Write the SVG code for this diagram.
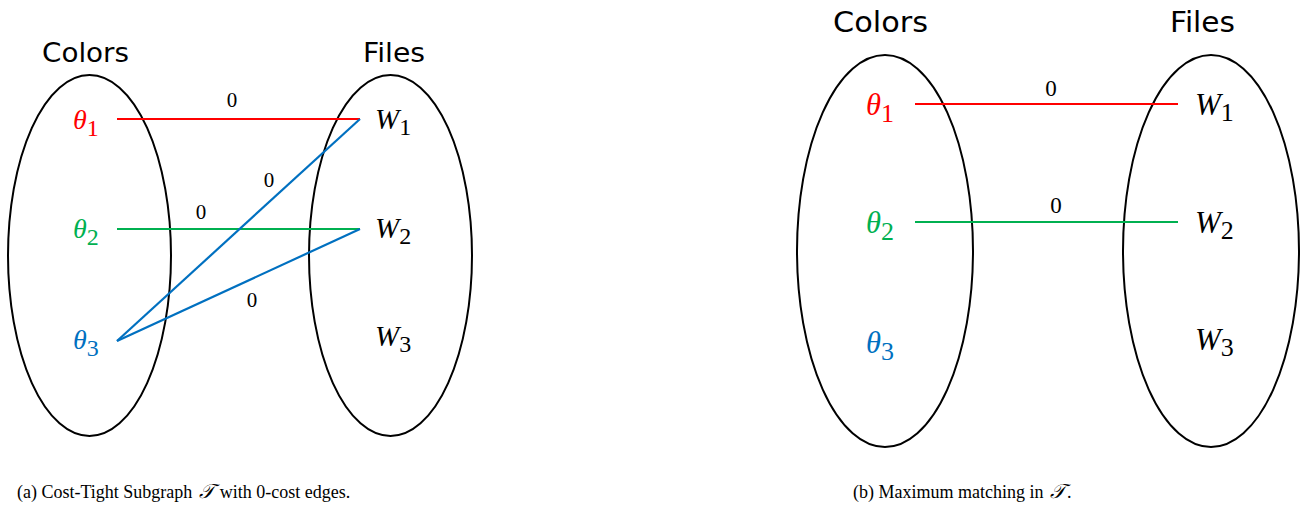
<svg xmlns="http://www.w3.org/2000/svg" width="1302" height="508" viewBox="0 0 1302 508">
<style>
.set{fill:none;stroke:#000;stroke-width:2}
.hdr{font-family:"DejaVu Sans",sans-serif;fill:#000}
.m{font-family:"Liberation Serif",serif;font-style:italic}
.sub{font-style:normal}
.w{fill:#000}
.r{fill:#FF0000}
.g{fill:#00B050}
.b{fill:#0070C0}
.e{fill:none;stroke-width:2.2}
.er{stroke:#FF0000}
.eg{stroke:#00B050}
.eb{stroke:#0070C0}
.lbl{font-family:"Liberation Serif",serif;fill:#000;text-anchor:middle}
.cap{font-family:"Liberation Serif",serif;font-size:18px;fill:#000}
.calT{font-style:italic;font-size:20px}
</style>
<rect width="1302" height="508" fill="#fff"/>

<!-- Panel (a) -->
<g id="a-colors-set">
<ellipse class="set" cx="89.5" cy="255.5" rx="81.5" ry="180.5"/>
<text class="hdr" x="42" y="62" font-size="26" textLength="87" lengthAdjust="spacingAndGlyphs">Colors</text>
</g>
<g id="a-files-set">
<ellipse class="set" cx="390.5" cy="255.5" rx="81.5" ry="180.5"/>
<text class="hdr" x="363" y="62" font-size="26" textLength="62" lengthAdjust="spacingAndGlyphs">Files</text>
</g>

<g id="a-connectors">
<line class="e er" x1="117" y1="119" x2="360" y2="119"/>
<line class="e eg" x1="117" y1="229" x2="360" y2="229"/>
<line class="e eb" x1="117" y1="341" x2="360" y2="119"/>
<line class="e eb" x1="117" y1="341" x2="360" y2="229"/>
<text class="lbl" x="232" y="107" font-size="21">0</text>
<text class="lbl" x="269" y="187" font-size="21">0</text>
<text class="lbl" x="201" y="219" font-size="21">0</text>
<text class="lbl" x="252" y="307" font-size="21">0</text>
</g>

<g id="a-theta1"><text class="m r" x="73" y="129" font-size="28">θ<tspan class="sub" font-size="24" dy="7">1</tspan></text></g>
<g id="a-theta2"><text class="m g" x="73" y="238" font-size="28">θ<tspan class="sub" font-size="24" dy="7">2</tspan></text></g>
<g id="a-theta3"><text class="m b" x="73" y="349" font-size="28">θ<tspan class="sub" font-size="24" dy="7">3</tspan></text></g>
<g id="a-W1"><text class="m w" x="375" y="129" font-size="29">W<tspan class="sub" font-size="24" dy="6">1</tspan></text></g>
<g id="a-W2"><text class="m w" x="375" y="238" font-size="29">W<tspan class="sub" font-size="24" dy="6">2</tspan></text></g>
<g id="a-W3"><text class="m w" x="375" y="346" font-size="29">W<tspan class="sub" font-size="24" dy="6">3</tspan></text></g>

<!-- Panel (b) -->
<g id="b-colors-set">
<ellipse class="set" cx="885" cy="251" rx="88" ry="196"/>
<text class="hdr" x="833" y="32" font-size="28" textLength="95" lengthAdjust="spacingAndGlyphs">Colors</text>
</g>
<g id="b-files-set">
<ellipse class="set" cx="1211" cy="251" rx="88" ry="196"/>
<text class="hdr" x="1170" y="32" font-size="28" textLength="65" lengthAdjust="spacingAndGlyphs">Files</text>
</g>

<g id="b-connectors">
<line class="e er" x1="915" y1="104" x2="1178" y2="104"/>
<line class="e eg" x1="915" y1="222" x2="1178" y2="222"/>
<text class="lbl" x="1051" y="96" font-size="23">0</text>
<text class="lbl" x="1056" y="213" font-size="23">0</text>
</g>

<g id="b-theta1"><text class="m r" x="866" y="115" font-size="30.5">θ<tspan class="sub" font-size="26" dy="7">1</tspan></text></g>
<g id="b-theta2"><text class="m g" x="866" y="233" font-size="30.5">θ<tspan class="sub" font-size="26" dy="7">2</tspan></text></g>
<g id="b-theta3"><text class="m b" x="866" y="353" font-size="30.5">θ<tspan class="sub" font-size="26" dy="7">3</tspan></text></g>
<g id="b-W1"><text class="m w" x="1195" y="115" font-size="31">W<tspan class="sub" font-size="26" dy="6">1</tspan></text></g>
<g id="b-W2"><text class="m w" x="1195" y="233" font-size="31">W<tspan class="sub" font-size="26" dy="6">2</tspan></text></g>
<g id="b-W3"><text class="m w" x="1195" y="350" font-size="31">W<tspan class="sub" font-size="26" dy="6">3</tspan></text></g>

<!-- Captions -->
<text class="cap" x="17" y="498">(a) Cost-Tight Subgraph <tspan class="calT" dx="2">𝒯</tspan><tspan dx="6">with 0-cost edges.</tspan></text>
<text class="cap" x="853" y="498">(b) Maximum matching in <tspan class="calT" dx="2">𝒯</tspan><tspan dx="2">.</tspan></text>
</svg>
